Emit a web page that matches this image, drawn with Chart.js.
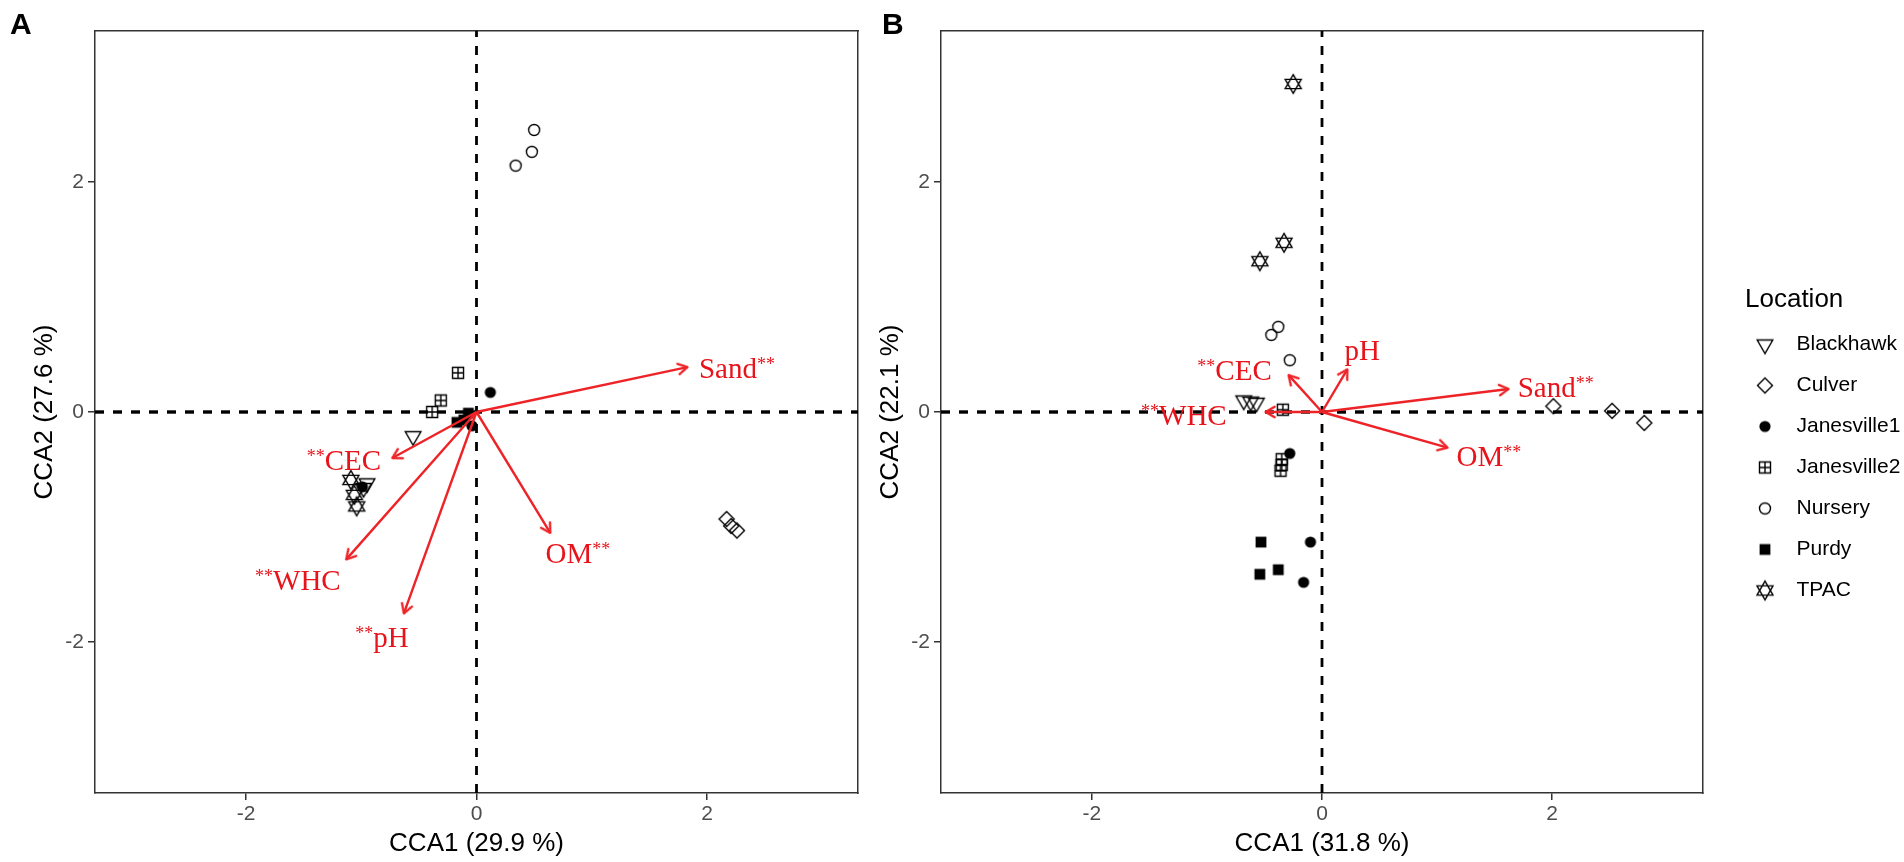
<!DOCTYPE html>
<html>
<head>
<meta charset="utf-8">
<script src="https://cdn.jsdelivr.net/npm/chart.js@4.4.1/dist/chart.umd.min.js"></script>
<style>
  html, body { margin: 0; padding: 0; background: #fff; }
  body { width: 1904px; height: 862px; position: relative; overflow: hidden; }
  canvas { position: absolute; top: 0; }
  #cA { left: 0; }
  #cB { left: 846px; }
  .tag { position: absolute; top: 9px; font: bold 30px "Liberation Sans", Arial, sans-serif; line-height: 1; color: #000; }
</style>
</head>
<body>
<canvas id="cA" width="880" height="862"></canvas>
<canvas id="cB" width="1058" height="862"></canvas>
<div class="tag" style="left:10px">A</div>
<div class="tag" style="left:882px">B</div>
<script>
// ---- data ----
const locations = ['Blackhawk', 'Culver', 'Janesville1', 'Janesville2', 'Nursery', 'Purdy', 'TPAC'];
const tickValues = [-2, 0, 2];
const axisLimit = 3.31;

// panel A site scores [CCA1, CCA2]
const aBlackhawk = [[-0.55, -0.21], [-0.95, -0.62], [-0.98, -0.66]];
const aCulver = [[2.17, -0.93], [2.21, -0.99], [2.26, -1.03]];
const aJanesville1 = [[0.12, 0.17], [-0.99, -0.65], [-0.04, -0.12]];
const aJanesville2 = [[-0.16, 0.34], [-0.31, 0.10], [-0.385, 0.0]];
const aNursery = [[0.50, 2.45], [0.48, 2.26], [0.34, 2.14]];
const aPurdy = [[-0.07, -0.01], [-0.17, -0.09], [-0.11, -0.07]];
const aTPAC = [[-1.09, -0.59], [-1.06, -0.72], [-1.04, -0.82]];

// panel B site scores
const bBlackhawk = [[-0.68, 0.10], [-0.62, 0.09], [-0.57, 0.08]];
const bCulver = [[2.01, 0.05], [2.52, 0.01], [2.80, -0.095]];
const bJanesville1 = [[-0.28, -0.36], [-0.10, -1.13], [-0.16, -1.48]];
const bJanesville2 = [[-0.34, 0.02], [-0.35, -0.41], [-0.35, -0.46], [-0.36, -0.51]];
const bNursery = [[-0.38, 0.74], [-0.44, 0.67], [-0.28, 0.45]];
const bPurdy = [[-0.53, -1.13], [-0.38, -1.37], [-0.54, -1.41]];
const bTPAC = [[-0.25, 2.85], [-0.33, 1.47], [-0.54, 1.31]];

// environmental vectors
const envNames = ['Sand', 'CEC', 'WHC', 'pH', 'OM'];
const envStarsA = ['after', 'before', 'before', 'before', 'after'];
const envTipXA = [1.83, -0.73, -1.13, -0.63, 0.64];
const envTipYA = [0.39, -0.40, -1.28, -1.75, -1.05];
const envLabXA = [2.26, -1.15, -1.55, -0.82, 0.88];
const envLabYA = [0.38, -0.42, -1.46, -1.96, -1.23];

const envStarsB = ['after', 'before', 'before', 'none', 'after'];
const envTipXB = [1.62, -0.29, -0.49, 0.22, 1.09];
const envTipYB = [0.20, 0.32, 0.0, 0.37, -0.31];
const envLabXB = [2.03, -0.76, -1.20, 0.35, 1.45];
const envLabYB = [0.21, 0.36, -0.03, 0.53, -0.39];

// ---- styling helpers ----
Chart.defaults.font.family = 'Liberation Sans';
const arrowColor = '#ee2327';
const labelColor = '#e8141b';
const markerKinds = ['triDown', 'diamond', 'dot', 'squarePlus', 'circle', 'square', 'star'];

function drawMarker(g, kind, cx, cy) {
  g.strokeStyle = '#000';
  g.fillStyle = '#000';
  g.lineWidth = 1.4;
  g.beginPath();
  switch (kind) {
    case 'triDown':
      g.moveTo(cx - 7.8, cy - 4.5); g.lineTo(cx + 7.8, cy - 4.5); g.lineTo(cx, cy + 9);
      g.closePath(); g.stroke(); break;
    case 'diamond':
      g.moveTo(cx, cy - 7.5); g.lineTo(cx + 7.5, cy); g.lineTo(cx, cy + 7.5); g.lineTo(cx - 7.5, cy);
      g.closePath(); g.stroke(); break;
    case 'dot':
      g.arc(cx, cy, 5.6, 0, Math.PI * 2); g.fill(); break;
    case 'squarePlus':
      g.rect(cx - 5.5, cy - 5.5, 11, 11);
      g.moveTo(cx - 5.5, cy); g.lineTo(cx + 5.5, cy);
      g.moveTo(cx, cy - 5.5); g.lineTo(cx, cy + 5.5);
      g.stroke(); break;
    case 'circle':
      g.arc(cx, cy, 5.5, 0, Math.PI * 2); g.stroke(); break;
    case 'square':
      g.rect(cx - 5.4, cy - 5.4, 10.8, 10.8); g.fill(); break;
    case 'star':
      g.moveTo(cx, cy - 9.3); g.lineTo(cx + 8, cy + 4.65); g.lineTo(cx - 8, cy + 4.65); g.closePath();
      g.moveTo(cx, cy + 9.3); g.lineTo(cx + 8, cy - 4.65); g.lineTo(cx - 8, cy - 4.65); g.closePath();
      g.stroke(); break;
  }
}

function makeMarker(kind, shift) {
  const c = document.createElement('canvas');
  c.width = 26 + 2 * shift;
  c.height = 26;
  drawMarker(c.getContext('2d'), kind, 13, 13);
  return c;
}

const plotMarks = markerKinds.map(k => makeMarker(k, 0));
const legendMarks = markerKinds.map(k => makeMarker(k, 10.5));

function makeArrowHead() {
  const c = document.createElement('canvas');
  c.width = 32; c.height = 32;
  const g = c.getContext('2d');
  const L = 10.5, a = 30 * Math.PI / 180;
  g.strokeStyle = arrowColor;
  g.lineWidth = 2.4;
  g.lineCap = 'round';
  g.lineJoin = 'round';
  g.beginPath();
  g.moveTo(16 - L * Math.cos(a), 16 - L * Math.sin(a));
  g.lineTo(16, 16);
  g.lineTo(16 - L * Math.cos(a), 16 + L * Math.sin(a));
  g.stroke();
  return c;
}
const arrowHead = makeArrowHead();

// ---- dataset builders ----
function arrowDatasets(tipX, tipY) {
  return tipX.map((tx, i) => ({
    type: 'line',
    label: 'arrow',
    showLine: true,
    data: [{x: 0, y: 0}, {x: tx, y: tipY[i]}],
    borderColor: arrowColor,
    borderWidth: 2.4,
    fill: false,
    pointStyle: arrowHead,
    pointRadius: c => (c.dataIndex === 1 ? 6 : 0),
    pointHoverRadius: c => (c.dataIndex === 1 ? 6 : 0),
    pointRotation: Math.atan2(-tipY[i], tx) * 180 / Math.PI
  }));
}

function siteDatasets(scores) {
  return locations.map((loc, i) => ({
    type: 'scatter',
    label: loc,
    data: scores[i].map(([x, y]) => ({x, y})),
    pointStyle: plotMarks[i],
    pointRadius: 6,
    pointHoverRadius: 6,
    backgroundColor: '#000',
    borderColor: '#000'
  }));
}

function refDatasets() {
  return [
    {type: 'line', label: 'ref', showLine: true, data: [{x: -axisLimit, y: 0}, {x: axisLimit, y: 0}],
      borderColor: '#000', borderWidth: 3.4, borderDash: [9, 9], pointRadius: 0, fill: false},
    {type: 'line', label: 'ref', showLine: true, data: [{x: 0, y: -axisLimit}, {x: 0, y: axisLimit}],
      borderColor: '#000', borderWidth: 2.8, borderDash: [9, 9], pointRadius: 0, fill: false}
  ];
}

// vector labels (red, with ** superscript)
function labelPlugin(stars, labX, labY) {
  return {
    id: 'envLabels',
    afterDatasetsDraw(chart) {
      const {ctx, scales} = chart;
      ctx.save();
      ctx.fillStyle = labelColor;
      ctx.textBaseline = 'alphabetic';
      ctx.textAlign = 'left';
      envNames.forEach((name, i) => {
        const px = scales.x.getPixelForValue(labX[i]);
        const py = scales.y.getPixelForValue(labY[i]);
        ctx.font = '29px "Liberation Serif"';
        const wMain = ctx.measureText(name).width;
        ctx.font = '18px "Liberation Serif"';
        const wSup = stars[i] === 'none' ? 0 : ctx.measureText('**').width;
        let x = px - (wMain + wSup) / 2;
        const base = py + 9.5;
        if (stars[i] === 'before') {
          ctx.fillText('**', x, base - 8);
          x += wSup;
        }
        ctx.font = '29px "Liberation Serif"';
        ctx.fillText(name, x, base);
        if (stars[i] === 'after') {
          ctx.font = '18px "Liberation Serif"';
          ctx.fillText('**', x + wMain, base - 8);
        }
      });
      ctx.restore();
    }
  };
}

function scales(xTitle, yTitle, rightGap) {
  const tick = {font: {size: 21}, color: '#4d4d4d'};
  const grid = {drawOnChartArea: false, drawTicks: true, tickLength: 7, tickColor: '#333', tickWidth: 1.5, lineWidth: 1.5};
  const border = {display: true, color: '#333', width: 1.5};
  const setTicks = s => { s.ticks = tickValues.map(v => ({value: v})); };
  return {
    x: {
      type: 'linear', position: 'bottom', min: -axisLimit, max: axisLimit,
      afterBuildTicks: setTicks,
      ticks: Object.assign({padding: 2}, tick),
      grid, border,
      title: {display: true, text: xTitle, font: {size: 26}, color: '#000', padding: {top: 0, bottom: 2.4}},
      afterFit: s => { s.height = 69; }
    },
    y: {
      type: 'linear', position: 'left', min: -axisLimit, max: axisLimit,
      afterBuildTicks: setTicks,
      ticks: Object.assign({padding: 4}, tick),
      grid, border,
      title: {display: true, text: yTitle, font: {size: 26}, color: '#000', padding: {top: 29.4, bottom: 0}},
      afterFit: s => { s.width = 95; }
    },
    xTop: {
      type: 'linear', position: 'top', min: -axisLimit, max: axisLimit,
      ticks: {display: false}, grid: {display: false, drawTicks: false}, border,
      afterFit: s => { s.height = 0; }
    },
    yRight: {
      type: 'linear', position: 'right', min: -axisLimit, max: axisLimit,
      ticks: {display: false}, grid: {display: false, drawTicks: false}, border,
      afterFit: s => { s.width = rightGap; }
    }
  };
}

function buildPanel(id, scores, tipX, tipY, stars, labX, labY, xTitle, yTitle, withLegend, padRight, rightGap, targetRight) {
  const opts = {
    responsive: false,
    animation: false,
    events: [],
    layout: {padding: {top: 31, left: 0, right: padRight, bottom: 0}},
    scales: scales(xTitle, yTitle, rightGap),
    plugins: {
      tooltip: {enabled: false},
      legend: {
        display: withLegend,
        position: 'right',
        align: 'center',
        title: {display: true, text: 'Location', position: 'start', color: '#000',
          font: {size: 26}, padding: {top: 14.5, bottom: -3.7}},
        labels: {
          usePointStyle: true,
          padding: 20,
          color: '#000',
          font: {size: 21},
          filter: item => locations.includes(item.text),
          generateLabels: chart => Chart.defaults.plugins.legend.labels.generateLabels(chart).map(item => {
            const k = locations.indexOf(item.text);
            return k >= 0 ? Object.assign(item, {pointStyle: legendMarks[k], rotation: 0}) : item;
          })
        }
      }
    }
  };
  const chart = new Chart(document.getElementById(id), {
    type: 'scatter',
    data: {datasets: [...arrowDatasets(tipX, tipY), ...siteDatasets(scores), ...refDatasets()]},
    options: opts,
    plugins: [labelPlugin(stars, labX, labY)]
  });
  // keep the panel's right edge where the reference has it
  for (let k = 0; k < 3; k++) {
    const d = chart.chartArea.right - targetRight;
    if (Math.abs(d) < 0.05) break;
    opts.layout.padding.right += d;
    chart.update();
  }
  return chart;
}

buildPanel('cA',
  [aBlackhawk, aCulver, aJanesville1, aJanesville2, aNursery, aPurdy, aTPAC],
  envTipXA, envTipYA, envStarsA, envLabXA, envLabYA,
  'CCA1 (29.9 %)', 'CCA2 (27.6 %)', false, 22, 0, 858);

buildPanel('cB',
  [bBlackhawk, bCulver, bJanesville1, bJanesville2, bNursery, bPurdy, bTPAC],
  envTipXB, envTipYB, envStarsB, envLabXB, envLabYB,
  'CCA1 (31.8 %)', 'CCA2 (22.1 %)', true, 3, 42, 857);
</script>
</body>
</html>
